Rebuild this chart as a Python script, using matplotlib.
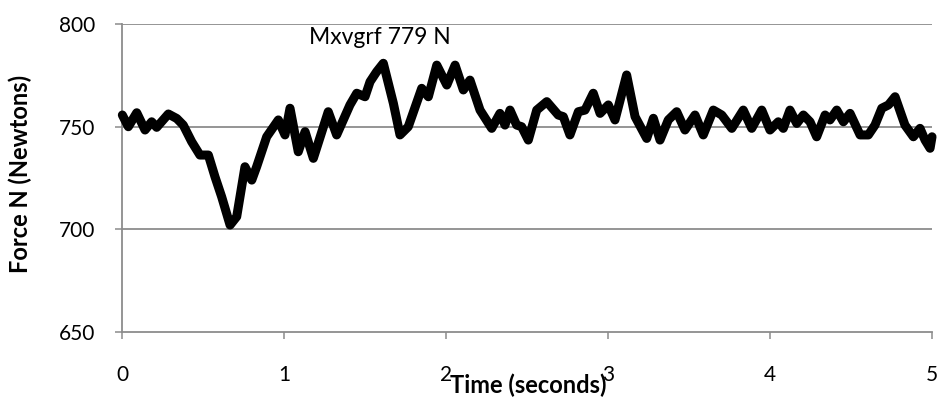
import matplotlib
matplotlib.use("Agg")
import matplotlib.pyplot as plt

plt.rcParams['font.family'] = ['Lato', 'DejaVu Sans']

time_s = [0.002, 0.039, 0.091, 0.142, 0.183, 0.214, 0.286, 0.338, 0.378, 0.430,
          0.481, 0.533, 0.574, 0.615, 0.667, 0.708, 0.759, 0.801, 0.831, 0.893,
          0.965, 1.006, 1.037, 1.088, 1.130, 1.181, 1.273, 1.325, 1.407, 1.449,
          1.500, 1.531, 1.572, 1.613, 1.654, 1.675, 1.716, 1.767, 1.850, 1.891,
          1.943, 2.005, 2.056, 2.107, 2.148, 2.210, 2.282, 2.333, 2.364, 2.395,
          2.436, 2.467, 2.508, 2.560, 2.622, 2.693, 2.724, 2.765, 2.817, 2.858,
          2.909, 2.951, 3.002, 3.043, 3.115, 3.167, 3.239, 3.280, 3.321, 3.372,
          3.424, 3.475, 3.537, 3.588, 3.650, 3.702, 3.764, 3.835, 3.887, 3.949,
          4.000, 4.051, 4.082, 4.123, 4.165, 4.206, 4.247, 4.288, 4.340, 4.370,
          4.412, 4.453, 4.494, 4.556, 4.607, 4.648, 4.690, 4.731, 4.772, 4.833,
          4.885, 4.926, 4.957, 4.988, 5.000]
force_n = [755.7, 750.0, 756.8, 748.4, 752.4, 749.7, 756.2, 754.0, 750.8, 742.7,
           736.2, 736.2, 725.6, 715.9, 702.1, 706.2, 730.5, 724.0, 730.5, 745.1,
           753.3, 746.0, 759.0, 737.8, 747.6, 734.6, 757.3, 746.0, 760.6, 766.3,
           764.6, 771.9, 776.8, 780.9, 768.0, 761.4, 746.0, 750.0, 768.7, 764.6,
           780.0, 770.3, 780.0, 767.9, 772.7, 758.1, 749.2, 756.5, 750.8, 758.1,
           750.8, 750.0, 743.5, 758.1, 762.2, 755.7, 754.9, 746.0, 757.3, 758.1,
           766.3, 756.5, 760.6, 753.3, 775.2, 754.9, 744.3, 754.1, 743.5, 753.3,
           757.3, 748.4, 755.7, 746.0, 758.1, 755.7, 749.2, 758.1, 749.2, 758.1,
           748.4, 752.4, 749.2, 758.1, 751.6, 755.7, 752.4, 745.1, 755.7, 753.3,
           758.1, 752.4, 756.5, 746.0, 746.0, 750.8, 759.0, 760.6, 764.6, 750.8,
           745.1, 749.2, 743.5, 739.5, 745.1]

x_ticks = [0, 1, 2, 3, 4, 5]
y_ticks = [650, 700, 750, 800]
peak_label = "Mxvgrf 779 N"
peak_pos = (1.59, 793.5)

fig = plt.figure(figsize=(9.4, 4.01), dpi=100)
ax = fig.add_axes([0.1298, 0.172, 0.8617, 0.768])

grid_c = "#8c8c8c"
for y in y_ticks[1:]:
    ax.axhline(y, color=grid_c, lw=1.3, zorder=1)

ax.plot(time_s, force_n, color="black", lw=6.5, solid_joinstyle="round",
        solid_capstyle="round", zorder=3, clip_on=False)

ax.set_xlim(0, 5)
ax.set_ylim(650, 800)
ax.set_xticks(x_ticks)
ax.set_yticks(y_ticks)
ax.set_xticklabels([str(v) for v in x_ticks])
ax.set_yticklabels([str(v) for v in y_ticks])

for s in ["top", "right"]:
    ax.spines[s].set_visible(False)
for s in ["left", "bottom"]:
    ax.spines[s].set_color(grid_c)
    ax.spines[s].set_linewidth(1.3)

ax.tick_params(axis="x", direction="out", length=5, width=1.1, color=grid_c,
               labelsize=15, pad=19, labelcolor="black")
ax.tick_params(axis="y", direction="out", length=5, width=1.1, color=grid_c,
               labelsize=15, pad=14, labelcolor="black")

ax.text(peak_pos[0], peak_pos[1], peak_label, ha="center", va="center", fontsize=16.5)

fig.text(0.562, 0.04, "Time (seconds)", ha="center", va="center",
         fontsize=17, fontweight="bold")
fig.text(0.022, 0.565, "Force N (Newtons)", ha="center", va="center",
         fontsize=17, fontweight="bold", rotation=90)

fig.savefig("out.png", dpi=100)
